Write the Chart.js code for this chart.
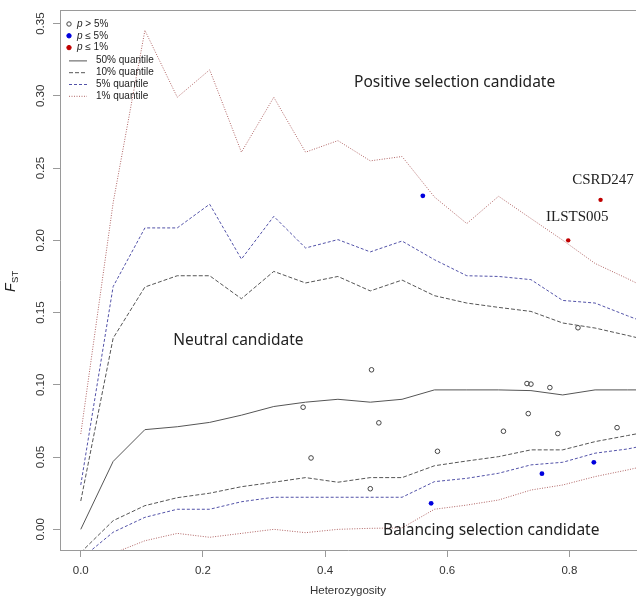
<!DOCTYPE html>
<html>
<head>
<meta charset="utf-8">
<script src="https://cdn.jsdelivr.net/npm/chart.js@4"></script>
<style>
  html, body { margin: 0; padding: 0; background: #fff; overflow: hidden; }
  #wrap { width: 641px; height: 598px; }
</style>
</head>
<body>
<div id="wrap"><canvas id="chart" width="641" height="598"></canvas></div>
<script>
// heterozygosity grid of the simulated quantile curves
const xNodes = [0.000, 0.053, 0.105, 0.158, 0.211, 0.263, 0.316, 0.368, 0.421, 0.474,
                0.526, 0.579, 0.632, 0.684, 0.737, 0.789, 0.842, 0.895, 0.947];

const q50 = [0.000, 0.047, 0.069, 0.071, 0.074, 0.079, 0.085, 0.088, 0.090, 0.088,
             0.090, 0.0965, 0.0965, 0.0965, 0.096, 0.093, 0.0965, 0.0965, 0.0965];
const q10Upper = [0.0196, 0.1323, 0.1677, 0.1755, 0.1755, 0.1596, 0.1785, 0.1705, 0.175, 0.165,
                  0.1725, 0.1617, 0.1566, 0.1536, 0.1508, 0.1428, 0.1393, 0.1342, 0.129];
const q10Lower = [-0.016, 0.006, 0.0164, 0.0219, 0.025, 0.0295, 0.0326, 0.0358, 0.0326, 0.0358,
                  0.0358, 0.044, 0.0473, 0.0503, 0.055, 0.055, 0.0607, 0.0649, 0.069];
const q5Upper = [0.0307, 0.168, 0.2086, 0.2086, 0.225, 0.187, 0.2166, 0.1947, 0.2005, 0.192,
                 0.1995, 0.1866, 0.1755, 0.175, 0.1728, 0.1584, 0.1566, 0.1478, 0.1395];
const q5Lower = [-0.0205, -0.002, 0.0083, 0.0139, 0.0139, 0.0191, 0.0222, 0.0222, 0.0222, 0.0222,
                 0.0222, 0.033, 0.0353, 0.0388, 0.0446, 0.0464, 0.0527, 0.0556, 0.060];
const q1Upper = [0.066, 0.226, 0.3453, 0.299, 0.318, 0.261, 0.299, 0.261, 0.269, 0.255,
                 0.258, 0.230, 0.2116, 0.2305, 0.2151, 0.2001, 0.184, 0.1735, 0.1627];
const q1Lower = [-0.029, -0.0166, -0.0079, -0.0028, -0.0055, -0.0028, 0.0, -0.0023, 0.0, 0.0007,
                 0.001, 0.0139, 0.0168, 0.0203, 0.0272, 0.0307, 0.0365, 0.0411, 0.046];

// loci: heterozygosity / Fst
const nsX = [0.364, 0.377, 0.476, 0.488, 0.474, 0.584, 0.692, 0.7305, 0.737, 0.768, 0.7326, 0.781, 0.814, 0.878];
const nsY = [0.0845, 0.0494, 0.1104, 0.0737, 0.0281, 0.054, 0.0679, 0.1009, 0.1005, 0.0981, 0.0801, 0.0663, 0.1395, 0.0704];
const p5X = [0.560, 0.5736, 0.755, 0.840];
const p5Y = [0.2308, 0.018, 0.0385, 0.0464];
const p1X = [0.851, 0.798];
const p1Y = [0.228, 0.200];

// text labels in data coordinates
const regionText = ['Positive selection candidate', 'Neutral candidate', 'Balancing selection candidate'];
const regionX = [0.612, 0.258, 0.672];
const regionY = [0.3095, 0.1307, -0.001];
const locusText = ['CSRD247', 'ILSTS005'];
const locusX = [0.855, 0.813];
const locusY = [0.2416, 0.2162];

const legendPoints = ['> 5%', '\u2264 5%', '\u2264 1%'];
const legendLines = ['50% quantile', '10% quantile', '5% quantile', '1% quantile'];

const SANS = '"Liberation Sans", Arial, sans-serif';
const GREY = '#555555';
const BLUEISH = '#5252a8';
const REDDISH = '#b06464';
const FRAME = '#9a9a9a';

const lineStyles = [
    { color: GREY, dash: [] },
    { color: GREY, dash: [4, 2] },
    { color: BLUEISH, dash: [3, 2] },
    { color: REDDISH, dash: [1, 1.5] }
];

function pts(xs, ys) {
    return xs.map((x, i) => ({ x: x, y: ys[i] }));
}

function curve(label, ys, style) {
    return {
        label: label,
        data: pts(xNodes, ys),
        showLine: true,
        borderColor: style.color,
        borderWidth: 1,
        borderDash: style.dash,
        pointRadius: 0,
        tension: 0,
        fill: false
    };
}

const overlay = {
    id: 'overlay',
    afterDraw(chart) {
        const ctx = chart.ctx;
        const a = chart.chartArea;
        const xs = chart.scales.x;
        const ys = chart.scales.y;
        ctx.save();

        // top edge of the box
        ctx.strokeStyle = FRAME;
        ctx.lineWidth = 1;
        ctx.beginPath();
        ctx.moveTo(a.left, a.top + 0.5);
        ctx.lineTo(a.right, a.top + 0.5);
        ctx.stroke();

        // rotated y tick labels
        ctx.fillStyle = '#333';
        ctx.font = '11.5px ' + SANS;
        ctx.textAlign = 'center';
        ctx.textBaseline = 'middle';
        ys.ticks.forEach(t => {
            ctx.save();
            ctx.translate(a.left - 19, ys.getPixelForValue(t.value));
            ctx.rotate(-Math.PI / 2);
            ctx.fillText(t.value.toFixed(2), 0, 0);
            ctx.restore();
        });

        // y title F_ST
        ctx.save();
        ctx.translate(15, 282);
        ctx.rotate(-Math.PI / 2);
        ctx.textAlign = 'left';
        ctx.textBaseline = 'alphabetic';
        ctx.fillStyle = '#222';
        ctx.font = 'italic 14px ' + SANS;
        ctx.fillText('F', -10, 0);
        const fw = ctx.measureText('F').width;
        ctx.font = '9.5px ' + SANS;
        ctx.fillText('ST', -10 + fw + 0.5, 3);
        ctx.restore();

        // region labels
        ctx.fillStyle = '#222';
        ctx.font = '15.5px "Noto Sans", sans-serif';
        ctx.textAlign = 'center';
        ctx.textBaseline = 'middle';
        regionText.forEach((s, i) => {
            ctx.fillText(s, xs.getPixelForValue(regionX[i]), ys.getPixelForValue(regionY[i]));
        });

        // locus labels
        ctx.font = '15px "Liberation Serif", "Times New Roman", serif';
        locusText.forEach((s, i) => {
            ctx.fillText(s, xs.getPixelForValue(locusX[i]), ys.getPixelForValue(locusY[i]));
        });

        // legend
        const row = 11.8;
        let y = a.top + 14;
        const pointFill = ['rgba(0,0,0,0)', '#0000dd', '#c00000'];
        const pointStroke = ['#444', '#0000dd', '#c00000'];
        ctx.textAlign = 'left';
        legendPoints.forEach((s, i) => {
            ctx.beginPath();
            ctx.arc(a.left + 9, y, 2.2, 0, Math.PI * 2);
            ctx.fillStyle = pointFill[i];
            ctx.fill();
            ctx.strokeStyle = pointStroke[i];
            ctx.lineWidth = 1;
            ctx.stroke();
            ctx.fillStyle = '#222';
            ctx.font = 'italic 10px ' + SANS;
            ctx.fillText('p', a.left + 17, y);
            const pw = ctx.measureText('p ').width;
            ctx.font = '10px ' + SANS;
            ctx.fillText(s, a.left + 17 + pw, y);
            y += row;
        });
        y += 1;
        legendLines.forEach((s, i) => {
            ctx.beginPath();
            ctx.setLineDash(lineStyles[i].dash);
            ctx.strokeStyle = lineStyles[i].color;
            ctx.lineWidth = 1;
            ctx.moveTo(a.left + 9, y + 0.5);
            ctx.lineTo(a.left + 27, y + 0.5);
            ctx.stroke();
            ctx.setLineDash([]);
            ctx.fillStyle = '#222';
            ctx.font = '10px ' + SANS;
            ctx.fillText(s, a.left + 36, y);
            y += row;
        });
        ctx.restore();
    }
};

const data = {
    datasets: [
        curve('50%', q50, lineStyles[0]),
        curve('10% upper', q10Upper, lineStyles[1]),
        curve('10% lower', q10Lower, lineStyles[1]),
        curve('5% upper', q5Upper, lineStyles[2]),
        curve('5% lower', q5Lower, lineStyles[2]),
        curve('1% upper', q1Upper, lineStyles[3]),
        curve('1% lower', q1Lower, lineStyles[3]),
        {
            label: 'p > 5%',
            data: pts(nsX, nsY),
            pointRadius: 2.3,
            borderWidth: 1,
            borderColor: '#444',
            backgroundColor: 'rgba(0,0,0,0)'
        },
        {
            label: 'p <= 5%',
            data: pts(p5X, p5Y),
            pointRadius: 2.4,
            borderWidth: 0,
            backgroundColor: '#0000dd'
        },
        {
            label: 'p <= 1%',
            data: pts(p1X, p1Y),
            pointRadius: 2.2,
            borderWidth: 0,
            backgroundColor: '#c00000'
        }
    ]
};

const config = {
    type: 'scatter',
    data,
    options: {
        responsive: false,
        animation: false,
        devicePixelRatio: 1,
        layout: { padding: { top: 10, left: 0, right: 0, bottom: 0 } },
        plugins: {
            legend: { display: false },
            tooltip: { enabled: false }
        },
        scales: {
            x: {
                type: 'linear',
                min: -0.034,
                max: 0.909,
                afterFit(scale) { scale.height = 48; },
                border: { display: true, color: FRAME, width: 1 },
                grid: { drawOnChartArea: false, drawTicks: true, tickLength: 7, color: FRAME },
                ticks: {
                    stepSize: 0.2,
                    includeBounds: false,
                    padding: 7,
                    color: '#333',
                    font: { family: SANS, size: 11.5 },
                    maxRotation: 0,
                    callback: v => v.toFixed(1)
                },
                title: {
                    display: true,
                    text: 'Heterozygosity',
                    color: '#333',
                    font: { family: SANS, size: 11.5 },
                    padding: { top: 0, bottom: 0 }
                }
            },
            y: {
                type: 'linear',
                min: -0.0143,
                max: 0.3594,
                afterFit(scale) { scale.width = 60; },
                border: { display: true, color: FRAME, width: 1 },
                grid: { drawOnChartArea: false, drawTicks: true, tickLength: 7, color: FRAME },
                ticks: {
                    stepSize: 0.05,
                    includeBounds: false,
                    color: 'rgba(0,0,0,0)',
                    font: { family: SANS, size: 11.5 }
                }
            }
        }
    },
    plugins: [overlay]
};

new Chart(document.getElementById('chart'), config);
</script>
</body>
</html>
